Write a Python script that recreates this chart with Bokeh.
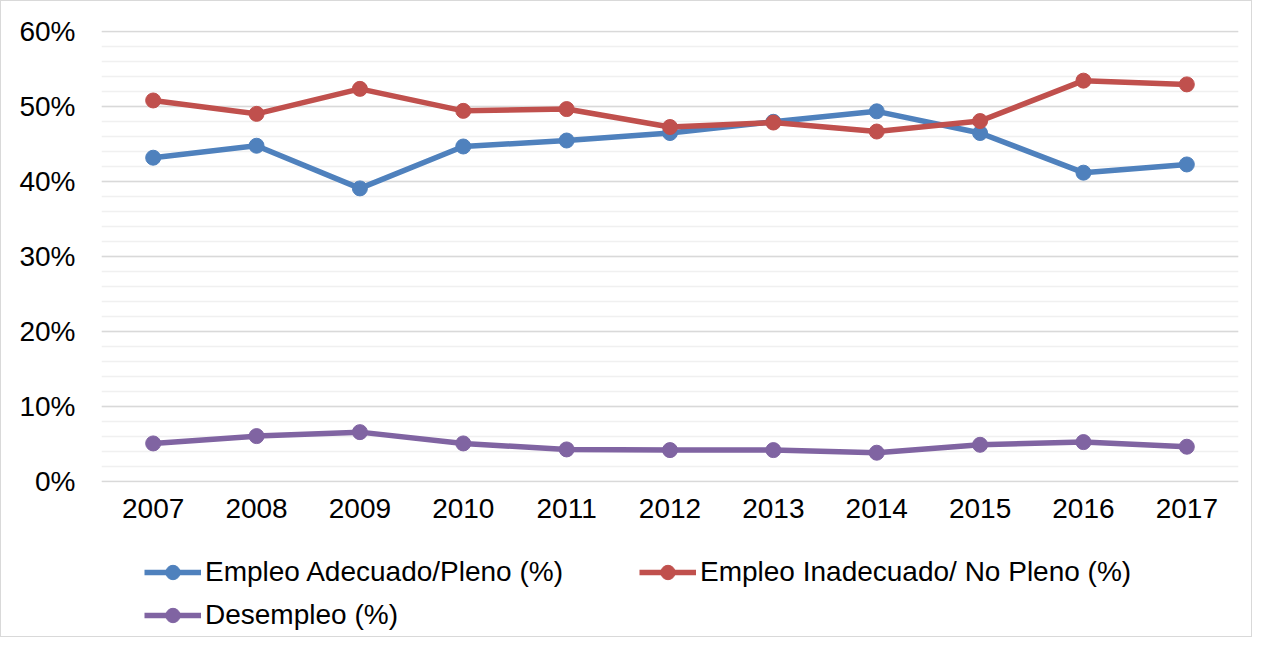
from bokeh.plotting import figure
from bokeh.layouts import column
from bokeh.models import (ColumnDataSource, Legend, LegendItem, FixedTicker,
                          NumeralTickFormatter, FactorRange, Range1d)
from bokeh.embed import file_html
from bokeh.resources import INLINE

years = ["2007", "2008", "2009", "2010", "2011", "2012", "2013", "2014", "2015", "2016", "2017"]
adecuado = [43.2, 44.8, 39.1, 44.7, 45.5, 46.5, 48.0, 49.4, 46.5, 41.2, 42.3]
inadecuado = [50.85, 49.06, 52.4, 49.46, 49.7, 47.3, 47.9, 46.7, 48.1, 53.5, 53.0]
desempleo = [5.02, 6.0, 6.53, 5.02, 4.22, 4.13, 4.13, 3.78, 4.84, 5.2, 4.58]

names = ["Empleo Adecuado/Pleno (%)", "Empleo Inadecuado/ No Pleno (%)", "Desempleo (%)"]
colors = ["#4f81bd", "#c0504d", "#8064a2"]
series = [adecuado, inadecuado, desempleo]

FONT = "Liberation Sans"
W = 1250

# ---------------- main chart ----------------
p = figure(x_range=FactorRange(*years), y_range=Range1d(-0.002, 0.602),
           width=W, height=545, output_backend="svg", toolbar_location=None,
           min_border_left=100, min_border_top=29, min_border_right=13, min_border_bottom=64)
p.outline_line_color = None
p.background_fill_color = "white"
p.border_fill_color = "white"

for vals, c in zip(series, colors):
    src = ColumnDataSource(dict(x=years, y=[v / 100 for v in vals]))
    p.line("x", "y", source=src, line_color=c, line_width=5.5)
    p.scatter("x", "y", source=src, size=15, fill_color=c, line_color=c)

p.yaxis.ticker = FixedTicker(ticks=[0, 0.1, 0.2, 0.3, 0.4, 0.5, 0.6],
                             minor_ticks=[i / 100 for i in range(0, 61, 2)])
p.yaxis.formatter = NumeralTickFormatter(format="0%")
for ax in (p.xaxis, p.yaxis):
    ax.axis_line_color = None
    ax.major_tick_line_color = None
    ax.minor_tick_line_color = None
    ax.major_tick_in = 0
    ax.major_tick_out = 0
    ax.minor_tick_in = 0
    ax.minor_tick_out = 0
    ax.major_label_text_font = FONT
    ax.major_label_text_font_size = "28px"
    ax.major_label_text_color = "#000000"
p.yaxis.major_label_standoff = 26
p.xaxis.major_label_standoff = 16

p.xgrid.grid_line_color = None
p.ygrid.grid_line_color = "#d9d9d9"
p.ygrid.grid_line_width = 1.5
p.ygrid.minor_grid_line_color = "#f0f0f0"
p.ygrid.minor_grid_line_width = 1.5

# ---------------- legend strip ----------------
LH = 90
q = figure(x_range=FactorRange(*years), y_range=Range1d(0, 100),
           width=W, height=LH, output_backend="svg", toolbar_location=None,
           x_axis_type=None, y_axis_type=None,
           min_border_left=0, min_border_right=0, min_border_top=0, min_border_bottom=0)
q.outline_line_color = None
q.xgrid.visible = False
q.ygrid.visible = False
q.background_fill_color = "white"
q.border_fill_color = "white"

leg_r = []
for vals, c in zip(series, colors):
    l = q.line(years, vals, line_color=c, line_width=5.5, visible=False)
    s = q.scatter(years, vals, size=15, fill_color=c, line_color=c, visible=False)
    leg_r.append([l, s])

def mk_legend(items, loc):
    return Legend(items=items, location=loc, orientation="vertical",
                  label_text_font=FONT, label_text_font_size="28px",
                  label_text_color="#000000", glyph_width=57, glyph_height=36,
                  label_height=36, label_standoff=4, spacing=7, padding=0, margin=0,
                  border_line_color=None, background_fill_alpha=0)

legA = mk_legend([LegendItem(label=names[0], renderers=leg_r[0]),
                  LegendItem(label=names[2], renderers=leg_r[2])], (43, 3))
legB = mk_legend([LegendItem(label=names[1], renderers=leg_r[1])], (538, 46))
q.add_layout(legA, "center")
q.add_layout(legB, "center")

layout = column(p, q, spacing=0)
layout.styles = {"border": "1.5px solid #d9d9d9"}

open("out.html", "w").write(file_html(layout, INLINE))
